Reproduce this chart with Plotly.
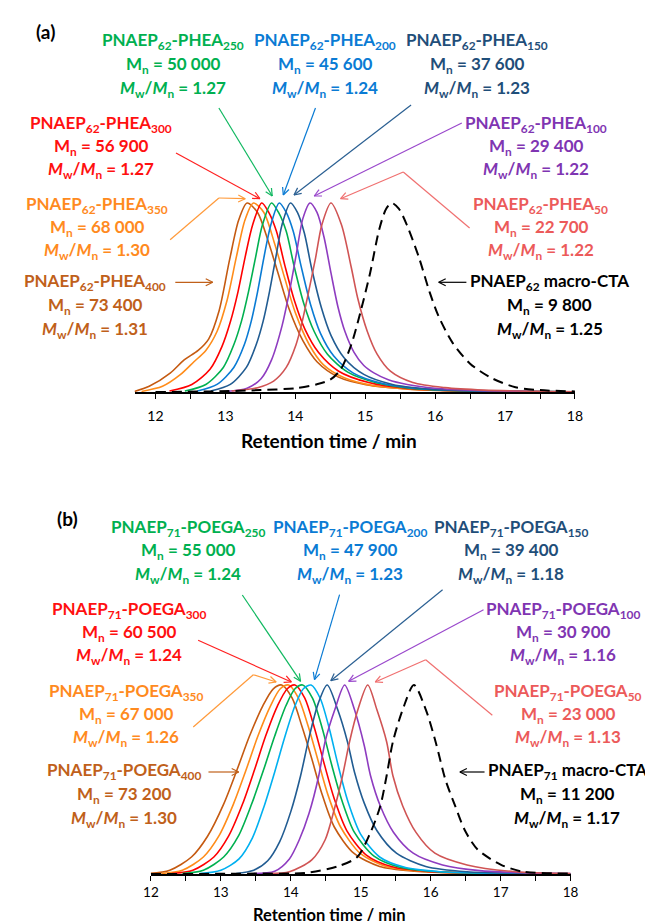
import math
import plotly.graph_objects as go

W, H = 653, 921

# ---------------- DATA ----------------
# Panel (a): PNAEP62-PHEA series (retention time / min, normalised RI response)
a_brown_t = [11.70, 11.91, 12.21, 12.41, 12.61, 12.76, 12.91, 13.06, 13.19, 13.31, 13.46, 13.61, 13.76, 13.91, 14.11, 14.31, 14.61, 15.01, 15.61, 16.5, 18.0]
a_brown_y = [0.003, 0.03, 0.10, 0.17, 0.22, 0.28, 0.43, 0.70, 0.91, 1.0, 0.95, 0.80, 0.62, 0.44, 0.27, 0.16, 0.08, 0.038, 0.015, 0.005, 0.001]
a_orange_t = [11.80, 12.10, 12.35, 12.55, 12.72, 12.88, 13.02, 13.16, 13.28, 13.40, 13.55, 13.70, 13.85, 14.00, 14.20, 14.40, 14.70, 15.10, 15.70, 16.60, 18.0]
a_orange_y = [0.003, 0.03, 0.09, 0.16, 0.22, 0.32, 0.48, 0.72, 0.91, 1.0, 0.95, 0.79, 0.60, 0.42, 0.25, 0.145, 0.075, 0.035, 0.014, 0.005, 0.001]
a_red_t = [12.20, 12.52, 12.78, 12.95, 13.07, 13.18, 13.28, 13.39, 13.52, 13.62, 13.73, 13.85, 13.99, 14.14, 14.33, 14.62, 15.05, 15.6, 16.4, 18.0]
a_red_y = [0.005, 0.04, 0.12, 0.24, 0.37, 0.53, 0.71, 0.885, 1.0, 0.95, 0.85, 0.67, 0.48, 0.33, 0.21, 0.11, 0.05, 0.019, 0.006, 0.001]
a_green_t = [12.42, 12.72, 12.97, 13.12, 13.23, 13.33, 13.43, 13.53, 13.66, 13.76, 13.87, 13.98, 14.12, 14.27, 14.46, 14.75, 15.17, 15.7, 16.5, 18.0]
a_green_y = [0.005, 0.04, 0.13, 0.25, 0.375, 0.53, 0.71, 0.885, 1.0, 0.95, 0.85, 0.67, 0.47, 0.32, 0.20, 0.105, 0.048, 0.018, 0.006, 0.001]
a_blue_t = [12.60, 12.88, 13.12, 13.27, 13.37, 13.46, 13.55, 13.65, 13.77, 13.87, 13.97, 14.08, 14.22, 14.36, 14.55, 14.83, 15.25, 15.8, 16.6, 18.0]
a_blue_y = [0.005, 0.04, 0.13, 0.25, 0.375, 0.53, 0.71, 0.885, 1.0, 0.95, 0.85, 0.67, 0.46, 0.31, 0.19, 0.10, 0.045, 0.017, 0.006, 0.001]
a_dblue_t = [12.79, 13.07, 13.30, 13.44, 13.54, 13.63, 13.72, 13.81, 13.93, 14.03, 14.13, 14.23, 14.37, 14.51, 14.70, 14.98, 15.39, 15.93, 16.73, 18.0]
a_dblue_y = [0.005, 0.04, 0.13, 0.25, 0.375, 0.53, 0.71, 0.885, 1.0, 0.95, 0.84, 0.66, 0.45, 0.30, 0.18, 0.093, 0.04, 0.015, 0.005, 0.001]
a_purple_t = [13.01, 13.31, 13.51, 13.66, 13.81, 13.91, 14.01, 14.11, 14.21, 14.31, 14.41, 14.51, 14.61, 14.71, 14.84, 14.98, 15.13, 15.33, 15.6, 16.0, 16.6, 17.4, 18.0]
a_purple_y = [0.003, 0.02, 0.07, 0.17, 0.35, 0.52, 0.72, 0.92, 1.0, 0.95, 0.82, 0.63, 0.45, 0.32, 0.21, 0.14, 0.10, 0.065, 0.04, 0.02, 0.008, 0.003, 0.001]
a_salmon_t = [13.09, 13.46, 13.69, 13.87, 14.01, 14.10, 14.19, 14.29, 14.38, 14.51, 14.66, 14.80, 14.89, 15.03, 15.17, 15.36, 15.68, 16.14, 16.70, 17.5, 18.0]
a_salmon_y = [0.005, 0.023, 0.058, 0.13, 0.25, 0.375, 0.53, 0.71, 0.885, 1.0, 0.885, 0.66, 0.50, 0.32, 0.20, 0.11, 0.05, 0.023, 0.01, 0.003, 0.001]
a_macro_t = [12.0, 12.8, 13.5, 14.0, 14.3, 14.5, 14.65, 14.8, 14.93, 15.07, 15.2, 15.3, 15.38, 15.48, 15.6, 15.77, 15.92, 16.05, 16.25, 16.5, 16.8, 17.15, 17.5, 18.0]
a_macro_y = [0.0, 0.003, 0.01, 0.02, 0.04, 0.065, 0.12, 0.25, 0.42, 0.63, 0.86, 0.97, 1.0, 0.97, 0.88, 0.71, 0.53, 0.40, 0.26, 0.15, 0.075, 0.025, 0.01, 0.003]

# Panel (b): PNAEP71-POEGA series
b_brown_t = [11.97, 12.27, 12.58, 12.81, 13.04, 13.23, 13.41, 13.60, 13.75, 13.87, 14.02, 14.16, 14.30, 14.44, 14.62, 14.90, 15.27, 15.77, 16.47, 18.0]
b_brown_y = [0.003, 0.02, 0.09, 0.20, 0.37, 0.55, 0.73, 0.89, 0.98, 1.0, 0.93, 0.78, 0.61, 0.43, 0.25, 0.11, 0.04, 0.015, 0.005, 0.001]
b_orange_t = [12.15, 12.45, 12.75, 12.97, 13.18, 13.36, 13.53, 13.71, 13.85, 13.97, 14.11, 14.25, 14.39, 14.53, 14.71, 14.99, 15.36, 15.86, 16.56, 18.0]
b_orange_y = [0.003, 0.02, 0.09, 0.20, 0.37, 0.55, 0.73, 0.89, 0.98, 1.0, 0.93, 0.78, 0.60, 0.42, 0.25, 0.11, 0.04, 0.015, 0.005, 0.001]
b_red_t = [12.30, 12.60, 12.90, 13.11, 13.31, 13.48, 13.64, 13.81, 13.95, 14.06, 14.20, 14.34, 14.48, 14.62, 14.80, 15.08, 15.45, 15.95, 16.65, 18.0]
b_red_y = [0.003, 0.02, 0.09, 0.20, 0.37, 0.55, 0.73, 0.89, 0.98, 1.0, 0.93, 0.77, 0.58, 0.40, 0.23, 0.10, 0.038, 0.014, 0.005, 0.001]
b_green_t = [12.45, 12.75, 13.04, 13.25, 13.44, 13.61, 13.77, 13.93, 14.06, 14.17, 14.31, 14.45, 14.59, 14.73, 14.91, 15.19, 15.56, 16.06, 16.76, 18.0]
b_green_y = [0.003, 0.02, 0.09, 0.20, 0.37, 0.55, 0.73, 0.89, 0.98, 1.0, 0.93, 0.77, 0.57, 0.39, 0.22, 0.095, 0.036, 0.013, 0.004, 0.001]
b_cyan_t = [12.70, 13.00, 13.26, 13.45, 13.62, 13.77, 13.91, 14.06, 14.18, 14.29, 14.42, 14.55, 14.68, 14.82, 15.00, 15.27, 15.64, 16.14, 16.84, 18.0]
b_cyan_y = [0.003, 0.02, 0.08, 0.19, 0.36, 0.54, 0.72, 0.89, 0.98, 1.0, 0.93, 0.77, 0.57, 0.38, 0.21, 0.09, 0.034, 0.012, 0.004, 0.001]
b_dblue_t = [13.22, 13.47, 13.67, 13.84, 14.00, 14.14, 14.26, 14.39, 14.52, 14.67, 14.81, 14.91, 15.05, 15.23, 15.51, 15.93, 16.52, 17.32, 18.0]
b_dblue_y = [0.003, 0.02, 0.07, 0.17, 0.33, 0.52, 0.72, 0.90, 1.0, 0.87, 0.70, 0.54, 0.375, 0.23, 0.11, 0.04, 0.012, 0.004, 0.001]
b_purple_t = [13.47, 13.77, 13.98, 14.12, 14.26, 14.40, 14.49, 14.63, 14.77, 14.91, 15.05, 15.14, 15.28, 15.47, 15.75, 16.17, 16.7, 17.4, 18.0]
b_purple_y = [0.003, 0.015, 0.08, 0.18, 0.32, 0.52, 0.70, 0.87, 1.0, 0.87, 0.68, 0.52, 0.36, 0.22, 0.11, 0.048, 0.018, 0.006, 0.002]
b_salmon_t = [13.70, 13.98, 14.30, 14.49, 14.62, 14.74, 14.84, 14.96, 15.10, 15.23, 15.37, 15.46, 15.60, 15.79, 16.06, 16.52, 17.21, 18.0]
b_salmon_y = [0.003, 0.012, 0.075, 0.18, 0.34, 0.52, 0.70, 0.87, 1.0, 0.87, 0.70, 0.52, 0.36, 0.22, 0.11, 0.048, 0.012, 0.003]
b_macro_t = [12.0, 13.5, 14.21, 14.67, 14.95, 15.14, 15.28, 15.37, 15.46, 15.60, 15.76, 15.93, 16.07, 16.21, 16.35, 16.49, 16.67, 17.00, 17.32, 18.0]
b_macro_y = [0.0, 0.002, 0.006, 0.04, 0.09, 0.22, 0.36, 0.52, 0.70, 0.87, 1.0, 0.87, 0.70, 0.50, 0.36, 0.23, 0.13, 0.05, 0.012, 0.003]

# Labels
dp_values = ["400", "350", "300", "250", "200", "150", "100", "50"]
a_block = "62"
a_mn = ["73 400", "68 000", "56 900", "50 000", "45 600", "37 600", "29 400", "22 700"]
a_disp = ["1.31", "1.30", "1.27", "1.27", "1.24", "1.23", "1.22", "1.22"]
a_macro_mn, a_macro_disp = "9 800", "1.25"
b_block = "71"
b_mn = ["73 200", "67 000", "60 500", "55 000", "47 900", "39 400", "30 900", "23 000"]
b_disp = ["1.30", "1.26", "1.24", "1.24", "1.23", "1.18", "1.16", "1.13"]
b_macro_mn, b_macro_disp = "11 200", "1.17"

tick_vals = [12, 12.5, 13, 13.5, 14, 14.5, 15, 15.5, 16, 16.5, 17, 17.5, 18]
tick_text = ["12", "", "13", "", "14", "", "15", "", "16", "", "17", "", "18"]
x_title = "Retention time / min"

# ---------------- STYLE ----------------
FONT = "Lato"
TS = 17
curve_cols_a = ["#C55A11", "#FF8C1A", "#FF0000", "#00B050", "#0A7BD4", "#215C92", "#8E3CC0", "#D05454"]
curve_cols_b = ["#C55A11", "#FF8C1A", "#FF0000", "#00B050", "#00B0F0", "#215C92", "#8E3CC0", "#D05454"]
text_cols = ["#C0601A", "#FF8A1E", "#FF1010", "#00B050", "#0A7BD4", "#1F4E79", "#7F35B2", "#EC5A5A"]
arrow_cols = ["#C0601A", "#FF9A3A", "#FF2020", "#10B860", "#0A7BD4", "#2A5F92", "#9A48CC", "#F07070"]


def X(px):
    return px / W


def Y(py):
    return 1 - py / H


fig = go.Figure()

a_curves = [(a_brown_t, a_brown_y), (a_orange_t, a_orange_y), (a_red_t, a_red_y), (a_green_t, a_green_y),
            (a_blue_t, a_blue_y), (a_dblue_t, a_dblue_y), (a_purple_t, a_purple_y), (a_salmon_t, a_salmon_y)]
b_curves = [(b_brown_t, b_brown_y), (b_orange_t, b_orange_y), (b_red_t, b_red_y), (b_green_t, b_green_y),
            (b_cyan_t, b_cyan_y), (b_dblue_t, b_dblue_y), (b_purple_t, b_purple_y), (b_salmon_t, b_salmon_y)]

for (t, y), c in zip(a_curves, curve_cols_a):
    fig.add_trace(go.Scatter(x=t, y=y, mode="lines", line=dict(color=c, width=1.6, shape="spline", smoothing=0.8),
                             xaxis="x", yaxis="y", showlegend=False))
fig.add_trace(go.Scatter(x=a_macro_t, y=a_macro_y, mode="lines",
                         line=dict(color="black", width=2, dash="10px,6px", shape="spline", smoothing=0.8),
                         xaxis="x", yaxis="y", showlegend=False))
for (t, y), c in zip(b_curves, curve_cols_b):
    fig.add_trace(go.Scatter(x=t, y=y, mode="lines", line=dict(color=c, width=1.6, shape="spline", smoothing=0.8),
                             xaxis="x2", yaxis="y2", showlegend=False))
fig.add_trace(go.Scatter(x=b_macro_t, y=b_macro_y, mode="lines",
                         line=dict(color="black", width=2, dash="10px,6px", shape="spline", smoothing=0.8),
                         xaxis="x2", yaxis="y2", showlegend=False))

# axis geometry (pixels)
A_X0, A_X1, A_BASE = 121.5, 573.0, 384.0
B_X0, B_X1, B_BASE = 138.3, 568.5, 866.0
PEAK_H = 189.0
YMAX = 1.05

axis_common = dict(showline=True, linecolor="black", linewidth=1.6, ticks="outside", ticklen=5, tickwidth=1.3,
                   tickcolor="black", tickvals=tick_vals, ticktext=tick_text, showgrid=False, zeroline=False)
fig.update_layout(
    xaxis=dict(domain=[X(A_X0), X(A_X1)], range=[11.70, 18.0], anchor="y", ticklabelstandoff=5,
               tickfont=dict(family=FONT, size=14, color="black"), **axis_common),
    yaxis=dict(domain=[Y(A_BASE), Y(A_BASE - YMAX * PEAK_H)], range=[0, YMAX], visible=False, anchor="x"),
    xaxis2=dict(domain=[X(B_X0), X(B_X1)], range=[12.0, 18.0], anchor="y2", ticklabelstandoff=0,
                tickfont=dict(family=FONT, size=13.5, color="black"), **axis_common),
    yaxis2=dict(domain=[Y(B_BASE), Y(B_BASE - YMAX * PEAK_H)], range=[0, YMAX], visible=False, anchor="x2"),
)

ann = []
shapes = []


def txt(px, py, s, color="black", size=TS, yanchor="middle"):
    ann.append(dict(x=X(px), y=Y(py), xref="paper", yref="paper", text=s, showarrow=False,
                    xanchor="center", yanchor=yanchor, font=dict(family=FONT, size=size, color=color)))


def seg(x0, y0, x1, y1, color):
    shapes.append(dict(type="line", xref="paper", yref="paper", x0=X(x0), y0=Y(y0), x1=X(x1), y1=Y(y1),
                       line=dict(color=color, width=1.2)))


def arrow(x0, y0, x1, y1, color):
    seg(x0, y0, x1, y1, color)
    L = math.hypot(x1 - x0, y1 - y0)
    ux, uy = (x0 - x1) / L, (y0 - y1) / L
    for ang in (0.45, -0.45):
        ca, sa = math.cos(ang), math.sin(ang)
        hx, hy = ux * ca - uy * sa, ux * sa + uy * ca
        seg(x1, y1, x1 + 8 * hx, y1 + 8 * hy, color)


def block(cx, ys, name, mn, disp, color):
    txt(cx, ys[0], "<b>" + name + "</b>", color)
    txt(cx, ys[1], "<b>M<sub>n</sub> = " + mn + "</b>", color)
    txt(cx, ys[2], "<b><i>M</i><sub>w</sub>/<i>M</i><sub>n</sub> = " + disp + "</b>", color)


# text positions: (center x, [line y's])
a_pos = [(81, [274, 298, 322]), (83, [197, 220, 243]), (87, [116, 139, 162]), (161, [33, 57, 81]),
         (317, [33, 57, 81]), (473, [33, 57, 81]), (533, [116, 139, 162]), (538, [197, 220, 243])]
b_pos = [(111, [763, 787, 811]), (113, [684, 707, 730]), (116, [602, 625, 648]), (176, [520, 543, 567]),
         (342, [520, 543, 567]), (507, [520, 543, 567]), (561, [602, 625, 648]), (566, [684, 707, 730])]

for i, (cx, ys) in enumerate(a_pos):
    block(cx, ys, "PNAEP<sub>" + a_block + "</sub>-PHEA<sub>" + dp_values[i] + "</sub>", a_mn[i], a_disp[i], text_cols[i])
block(547, [274, 298, 322], "PNAEP<sub>" + a_block + "</sub> macro-CTA", a_macro_mn, a_macro_disp, "black")
for i, (cx, ys) in enumerate(b_pos):
    block(cx, ys, "PNAEP<sub>" + b_block + "</sub>-POEGA<sub>" + dp_values[i] + "</sub>", b_mn[i], b_disp[i], text_cols[i])
block(565, [763, 787, 811], "PNAEP<sub>" + b_block + "</sub> macro-CTA", b_macro_mn, b_macro_disp, "black")

txt(30, 23, "<b>(a)</b>", "black", 19)
txt(53, 510, "<b>(b)</b>", "black", 19)
txt(321, 432, "<b>" + x_title + "</b>", "black", 19)
txt(321, 919, "<b>" + x_title + "</b>", "black", 16.5, yanchor="bottom")

# arrows panel (a)
arrow(163.3, 274.3, 201.7, 274.3, arrow_cols[0])
seg(158, 231.7, 208, 190, arrow_cols[1]); arrow(208, 190, 235, 190.7, arrow_cols[1])
arrow(164, 145, 250, 190.7, arrow_cols[2])
arrow(208, 100, 262.7, 188, arrow_cols[3])
arrow(307, 100, 274, 187, arrow_cols[4])
arrow(405, 97, 285, 187, arrow_cols[5])
arrow(457, 115, 305.7, 188, arrow_cols[6])
seg(465, 220, 397, 164, arrow_cols[7]); arrow(397, 164, 332.7, 190.7, arrow_cols[7])
arrow(461.7, 274.3, 433.3, 274.3, "black")
# arrows panel (b)
arrow(197.3, 764, 228.3, 764, arrow_cols[0])
seg(181.7, 719, 243.3, 666.7, arrow_cols[1]); arrow(243.3, 666.7, 266.7, 674, arrow_cols[1])
arrow(186.7, 632.3, 282.3, 674, arrow_cols[2])
arrow(232, 587, 291.7, 673.3, arrow_cols[3])
arrow(331.7, 586.7, 306, 671.7, arrow_cols[4])
arrow(437.3, 581.7, 322.7, 672.7, arrow_cols[5])
arrow(479.3, 601.7, 341, 673.3, arrow_cols[6])
seg(488.3, 707.3, 420, 651.7, arrow_cols[7]); arrow(420, 651.7, 368.3, 674, arrow_cols[7])
arrow(480.3, 764, 455, 764, "black")

fig.update_layout(width=W, height=H, margin=dict(l=0, r=0, t=0, b=0), paper_bgcolor="white",
                  plot_bgcolor="white", annotations=ann, shapes=shapes, showlegend=False)
fig.write_html("out.html")
